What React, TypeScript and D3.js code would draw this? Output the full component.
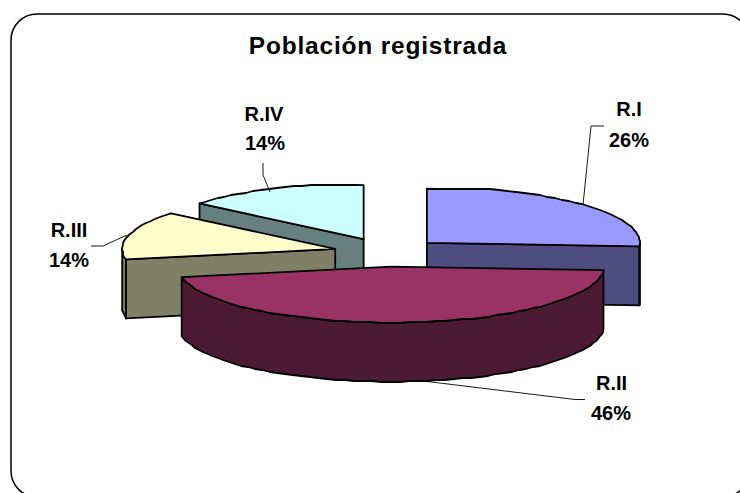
import React from "react";
import * as d3 from "d3";

const title = "Población registrada";
const categories = ["R.I", "R.II", "R.III", "R.IV"];
const shares = [26, 46, 14, 14];
const topColors = ["#9999FF", "#993366", "#FFFFCC", "#CCFFFF"];
const wallColors = ["#4D4D80", "#4D1A33", "#808066", "#668080"];

const W = 740, H = 493;
const CX = 387.5, CY = 252.5, RX = 213, RY = 56, DEPTH = 59;
const explode = [54, 54, 54, 56];
const FLAT = 0.965; // the source's arcs flatten off near the top of the ellipse

const labelAnchors = [
  { name: [629, 116], pct: [629, 147] },
  { name: [611.5, 390], pct: [611, 420] },
  { name: [69, 237], pct: [69, 267] },
  { name: [264, 120.5], pct: [265, 150] },
];
const leaders: [number, number][][] = [
  [[583, 205], [591, 126], [604, 126]],
  [[415, 380], [575, 399.5], [585, 399.5]],
  [[127, 235], [103, 246], [91, 246]],
  [[270, 192], [263, 175], [263, 163]],
];

const pieGen = d3.pie<number>().sort(null).value((d) => d).startAngle(0).endAngle(2 * Math.PI);
const arcs = pieGen(shares);

const line = d3.line<[number, number]>().x((d) => d[0]).y((d) => d[1]);
const jag = (v: number) => Math.round(v);

const apex = (i: number, mid: number): [number, number] => [
  CX + explode[i] * Math.sin(mid),
  CY - explode[i] * Math.cos(mid) * (RY / RX),
];
function rimPoint(i: number, a: number, mid: number): [number, number] {
  const o = apex(i, mid);
  return [o[0] + RX * Math.sin(a), o[1] - RY * Math.min(Math.cos(a), FLAT)];
}
function rim(i: number, a0: number, a1: number, mid: number): [number, number][] {
  const n = Math.max(2, Math.ceil((a1 - a0) / (2.5 * Math.PI / 180)));
  const t = d3.scaleLinear().domain([0, n]).range([a0, a1]);
  return d3.range(n + 1).map((k) => {
    const p = rimPoint(i, t(k), mid);
    return k === 0 || k === n ? p : ([jag(p[0]), jag(p[1])] as [number, number]);
  });
}
const shift = (pts: [number, number][]) => pts.map((p) => [p[0], p[1] + DEPTH] as [number, number]);
const closed = (pts: [number, number][]) => line(pts) + "Z";
const band = (pts: [number, number][]) => closed([...pts, ...shift(pts).reverse()]);

function Slice({ i }: { i: number }) {
  const { startAngle: a0, endAngle: a1 } = arcs[i];
  const mid = (a0 + a1) / 2;
  const c = apex(i, mid);
  const HALF = Math.PI / 2, THREE = 1.5 * Math.PI;
  const walls: string[] = [];
  // radial faces turned towards the viewer (the front slice hides its own)
  if (i !== 1) {
    if (a1 > HALF && a1 < Math.PI) walls.push(band([c, rimPoint(i, a1, mid)]));
    if (a0 > Math.PI) walls.push(band([c, rimPoint(i, a0, mid)]));
  }
  // outer wall on the front half of the ellipse
  const f0 = Math.max(a0, HALF), f1 = Math.min(a1, THREE);
  if (f1 > f0) walls.push(band(rim(i, f0, f1, mid)));
  return (
    <g stroke="#000" strokeWidth={1.8} strokeLinejoin="round">
      {walls.map((d, k) => <path key={k} d={d} fill={wallColors[i]} />)}
      <path d={closed([c, ...rim(i, a0, a1, mid)])} fill={topColors[i]} />
    </g>
  );
}

const drawOrder = [3, 2, 0, 1];

export default function App() {
  const font = "'Liberation Sans', Arial, sans-serif";
  return (
    <svg width={W} height={H} viewBox={`0 0 ${W} ${H}`}
      style={{ position: "absolute", left: 0, top: 0, display: "block", background: "#fff" }}>
      <rect x={11} y={14} width={738} height={483} rx={26} ry={26} fill="#fff" stroke="#000" strokeWidth={1.5} />
      <text x={378} y={53.5} textAnchor="middle" fontFamily={font} fontWeight="bold" fontSize={24.5} letterSpacing={0.8} fill="#000">{title}</text>
      {drawOrder.map((i) => <Slice key={i} i={i} />)}
      {leaders.map((l, i) => <path key={i} d={line(l) as string} fill="none" stroke="#000" strokeWidth={0.9} />)}
      {categories.map((c, i) => (
        <g key={c} fontFamily={font} fontWeight="bold" fontSize={20} textAnchor="middle" fill="#000">
          <text x={labelAnchors[i].name[0]} y={labelAnchors[i].name[1]}>{c}</text>
          <text x={labelAnchors[i].pct[0]} y={labelAnchors[i].pct[1]}>{shares[i]}%</text>
        </g>
      ))}
    </svg>
  );
}
